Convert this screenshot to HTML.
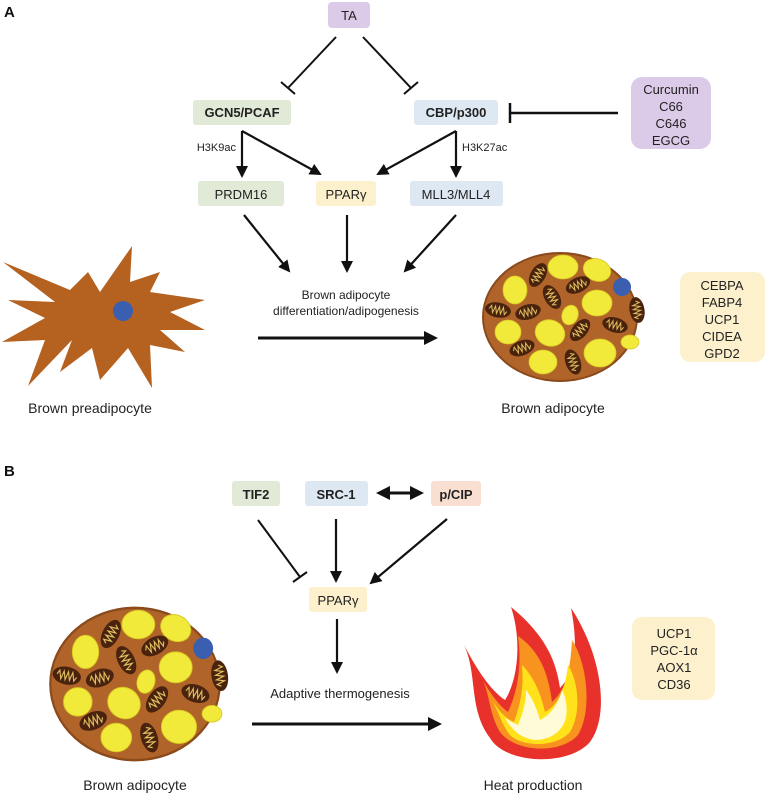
<!DOCTYPE html>
<html><head><meta charset="utf-8"><style>
html,body{margin:0;padding:0;background:#fff;}
svg{display:block;}
text{font-family:"Liberation Sans",sans-serif;fill:#222;}
</style></head><body>
<svg width="767" height="798" viewBox="0 0 767 798" xmlns="http://www.w3.org/2000/svg">
<defs>
<marker id="ah" markerWidth="12" markerHeight="12" refX="10" refY="6" orient="auto" markerUnits="userSpaceOnUse" viewBox="0 0 12 12">
<path d="M0,0 L12,6 L0,12 Z" fill="#111"/></marker>
<marker id="ahs" markerWidth="14" markerHeight="14" refX="6" refY="7" orient="auto-start-reverse" markerUnits="userSpaceOnUse" viewBox="0 0 14 14">
<path d="M0,0 L14,7 L0,14 Z" fill="#111"/></marker>
<g id="mito">
<ellipse rx="13" ry="7.5" fill="#4a230e"/>
<polyline points="-9,0 -7,-3.5 -5,3.5 -3,-3.5 -1,3.5 1,-3.5 3,3.5 5,-3.5 7,3.5 9,0" fill="none" stroke="#e0c060" stroke-width="1"/>
</g>
<g id="cell">
<ellipse rx="78" ry="65" fill="#8a4a1c"/>
<ellipse rx="76" ry="63" fill="#b0642a"/>
<g fill="#f2ea3a" stroke="#d8c820" stroke-width="0.8">
<ellipse cx="3" cy="-50" rx="15" ry="12"/>
<ellipse cx="37" cy="-47" rx="14" ry="11" transform="rotate(20 37 -47)"/>
<ellipse cx="-45" cy="-27" rx="12" ry="14"/>
<ellipse cx="37" cy="-14" rx="15" ry="13"/>
<ellipse cx="10" cy="-2" rx="8" ry="10" transform="rotate(20 10 -2)"/>
<ellipse cx="-52" cy="15" rx="13" ry="12"/>
<ellipse cx="-10" cy="16" rx="15" ry="13" transform="rotate(20 -10 16)"/>
<ellipse cx="40" cy="36" rx="16" ry="14"/>
<ellipse cx="-17" cy="45" rx="14" ry="12"/>
<ellipse cx="70" cy="25" rx="9" ry="7"/>
</g>
<circle cx="62" cy="-30" r="9" fill="#3a5fb0"/>
<use href="#mito" transform="translate(-22,-42) rotate(-60)"/>
<use href="#mito" transform="translate(18,-32) rotate(-25)"/>
<use href="#mito" transform="translate(-8,-20) rotate(60)"/>
<use href="#mito" transform="translate(-62,-7) rotate(10)"/>
<use href="#mito" transform="translate(-32,-5) rotate(-15)"/>
<use href="#mito" transform="translate(77,-7) rotate(80)"/>
<use href="#mito" transform="translate(55,8) rotate(15)"/>
<use href="#mito" transform="translate(20,13) rotate(-50)"/>
<use href="#mito" transform="translate(-38,31) rotate(-20)"/>
<use href="#mito" transform="translate(13,45) rotate(70)"/>
</g>
</defs>

<text x="4" y="17" font-size="15" font-weight="bold" style="fill:#111">A</text>
<rect x="328" y="2" width="42" height="26" rx="4" fill="#dccbe8"/>
<text x="349" y="20" font-size="13" text-anchor="middle">TA</text>

<g stroke="#111" stroke-width="2" fill="none">
<line x1="336" y1="37" x2="288" y2="88"/>
<line x1="281" y1="82" x2="295" y2="94"/>
<line x1="363" y1="37" x2="411" y2="88"/>
<line x1="404" y1="94" x2="418" y2="82"/>
<line x1="618" y1="113" x2="510" y2="113" stroke-width="2.5"/>
<line x1="510" y1="103" x2="510" y2="123" stroke-width="2.5"/>
</g>

<rect x="193" y="100" width="98" height="25" rx="3" fill="#e0ead6"/>
<text x="242" y="117" font-size="13" font-weight="bold" text-anchor="middle">GCN5/PCAF</text>
<rect x="414" y="100" width="84" height="25" rx="3" fill="#dde8f2"/>
<text x="456" y="117" font-size="13" font-weight="bold" text-anchor="middle">CBP/p300</text>

<rect x="631" y="77" width="80" height="72" rx="11" fill="#dccbe8"/>
<g font-size="13" text-anchor="middle">
<text x="671" y="94">Curcumin</text>
<text x="671" y="111">C66</text>
<text x="671" y="128">C646</text>
<text x="671" y="145">EGCG</text>
</g>

<text x="236" y="151" font-size="11" text-anchor="end">H3K9ac</text>
<text x="462" y="151" font-size="11">H3K27ac</text>

<g stroke="#111" stroke-width="2.2" fill="none" marker-end="url(#ah)">
<line x1="242" y1="131" x2="242" y2="176"/>
<line x1="242" y1="131" x2="320" y2="174"/>
<line x1="456" y1="131" x2="456" y2="176"/>
<line x1="456" y1="131" x2="378" y2="174"/>
<line x1="244" y1="215" x2="289" y2="271"/>
<line x1="347" y1="215" x2="347" y2="271"/>
<line x1="456" y1="215" x2="405" y2="271"/>
</g>

<rect x="198" y="181" width="86" height="25" rx="3" fill="#e0ead6"/>
<text x="241" y="199" font-size="13" text-anchor="middle">PRDM16</text>
<rect x="316" y="181" width="60" height="25" rx="3" fill="#fdf0cc"/>
<text x="346" y="199" font-size="13" text-anchor="middle">PPARγ</text>
<rect x="410" y="181" width="93" height="25" rx="3" fill="#dde8f2"/>
<text x="456" y="199" font-size="13" text-anchor="middle">MLL3/MLL4</text>

<text x="346" y="299" font-size="12" text-anchor="middle">Brown adipocyte</text>
<text x="346" y="315" font-size="12" text-anchor="middle">differentiation/adipogenesis</text>
<line x1="258" y1="338" x2="430" y2="338" stroke="#111" stroke-width="3" marker-end="url(#ahs)"/>

<path d="M3,262 L70,290 L88,272 L100,292 L132,246 L130,282 L160,272 L150,292 L205,300 L170,312 L205,330 L160,330 L185,352 L150,345 L152,388 L128,348 L100,380 L92,348 L60,372 L72,340 L28,386 L45,340 L2,342 L45,318 L8,300 L55,302 Z" fill="#b5611f"/>
<circle cx="123" cy="311" r="10" fill="#3a5fb0"/>
<text x="90" y="413" font-size="14" text-anchor="middle">Brown preadipocyte</text>

<use href="#cell" transform="translate(560,317)"/>
<text x="553" y="413" font-size="14" text-anchor="middle">Brown adipocyte</text>

<rect x="680" y="272" width="85" height="90" rx="10" fill="#fdf0cc"/>
<g font-size="13" text-anchor="middle">
<text x="722" y="290">CEBPA</text>
<text x="722" y="307">FABP4</text>
<text x="722" y="324">UCP1</text>
<text x="722" y="341">CIDEA</text>
<text x="722" y="358">GPD2</text>
</g>

<text x="4" y="476" font-size="15" font-weight="bold" style="fill:#111">B</text>
<rect x="232" y="481" width="48" height="25" rx="3" fill="#e0ead6"/>
<text x="256" y="499" font-size="13" font-weight="bold" text-anchor="middle">TIF2</text>
<rect x="305" y="481" width="63" height="25" rx="3" fill="#dde8f2"/>
<text x="336" y="499" font-size="13" font-weight="bold" text-anchor="middle">SRC-1</text>
<rect x="431" y="481" width="50" height="25" rx="3" fill="#f9dfd2"/>
<text x="456" y="499" font-size="13" font-weight="bold" text-anchor="middle">p/CIP</text>

<line x1="384" y1="493" x2="416" y2="493" stroke="#111" stroke-width="3" marker-start="url(#ahs)" marker-end="url(#ahs)"/>

<g stroke="#111" stroke-width="2" fill="none">
<line x1="258" y1="520" x2="300" y2="577"/>
<line x1="293" y1="582" x2="307" y2="572"/>
</g>
<g stroke="#111" stroke-width="2.2" fill="none" marker-end="url(#ah)">
<line x1="336" y1="519" x2="336" y2="581"/>
<line x1="447" y1="519" x2="371" y2="583"/>
<line x1="337" y1="619" x2="337" y2="672"/>
</g>

<rect x="309" y="587" width="58" height="25" rx="3" fill="#fdf0cc"/>
<text x="338" y="605" font-size="13" text-anchor="middle">PPARγ</text>

<text x="340" y="698" font-size="13" text-anchor="middle">Adaptive thermogenesis</text>
<line x1="252" y1="724" x2="434" y2="724" stroke="#111" stroke-width="3" marker-end="url(#ahs)"/>

<use href="#cell" transform="translate(135,684) scale(1.1,1.19)"/>
<text x="135" y="790" font-size="14" text-anchor="middle">Brown adipocyte</text>

<g>
<path d="M464,645 C478,675 468,708 490,738 C505,764 568,767 590,742 C610,715 602,655 571,608 C580,655 572,675 560,688 C556,660 545,635 511,607 C522,640 518,680 505,700 C490,690 476,668 464,645 Z" fill="#e8312a"/>
<path d="M480,675 C490,690 488,712 500,732 C515,752 560,755 578,735 C592,712 588,665 572,640 C570,675 565,690 552,702 C548,670 538,650 518,636 C522,665 518,690 508,712 C498,705 488,690 480,675 Z" fill="#f7931e"/>
<path d="M492,700 C500,715 502,725 510,735 C522,747 556,748 570,732 C582,712 578,680 568,665 C565,690 558,705 545,712 C540,690 532,675 522,665 C524,690 520,705 514,722 C505,718 498,710 492,700 Z" fill="#ffe21a"/>
<path d="M505,718 C512,730 520,738 535,740 C550,740 562,732 566,718 C568,705 565,695 562,690 C558,705 550,715 540,720 C536,705 530,695 526,690 C526,705 522,715 518,725 C512,722 508,720 505,718 Z" fill="#fffbd8"/>
</g>
<text x="533" y="790" font-size="14" text-anchor="middle">Heat production</text>

<rect x="632" y="617" width="83" height="83" rx="10" fill="#fdf0cc"/>
<g font-size="13" text-anchor="middle">
<text x="674" y="638">UCP1</text>
<text x="674" y="655">PGC-1α</text>
<text x="674" y="672">AOX1</text>
<text x="674" y="689">CD36</text>
</g>
</svg>
</body></html>
